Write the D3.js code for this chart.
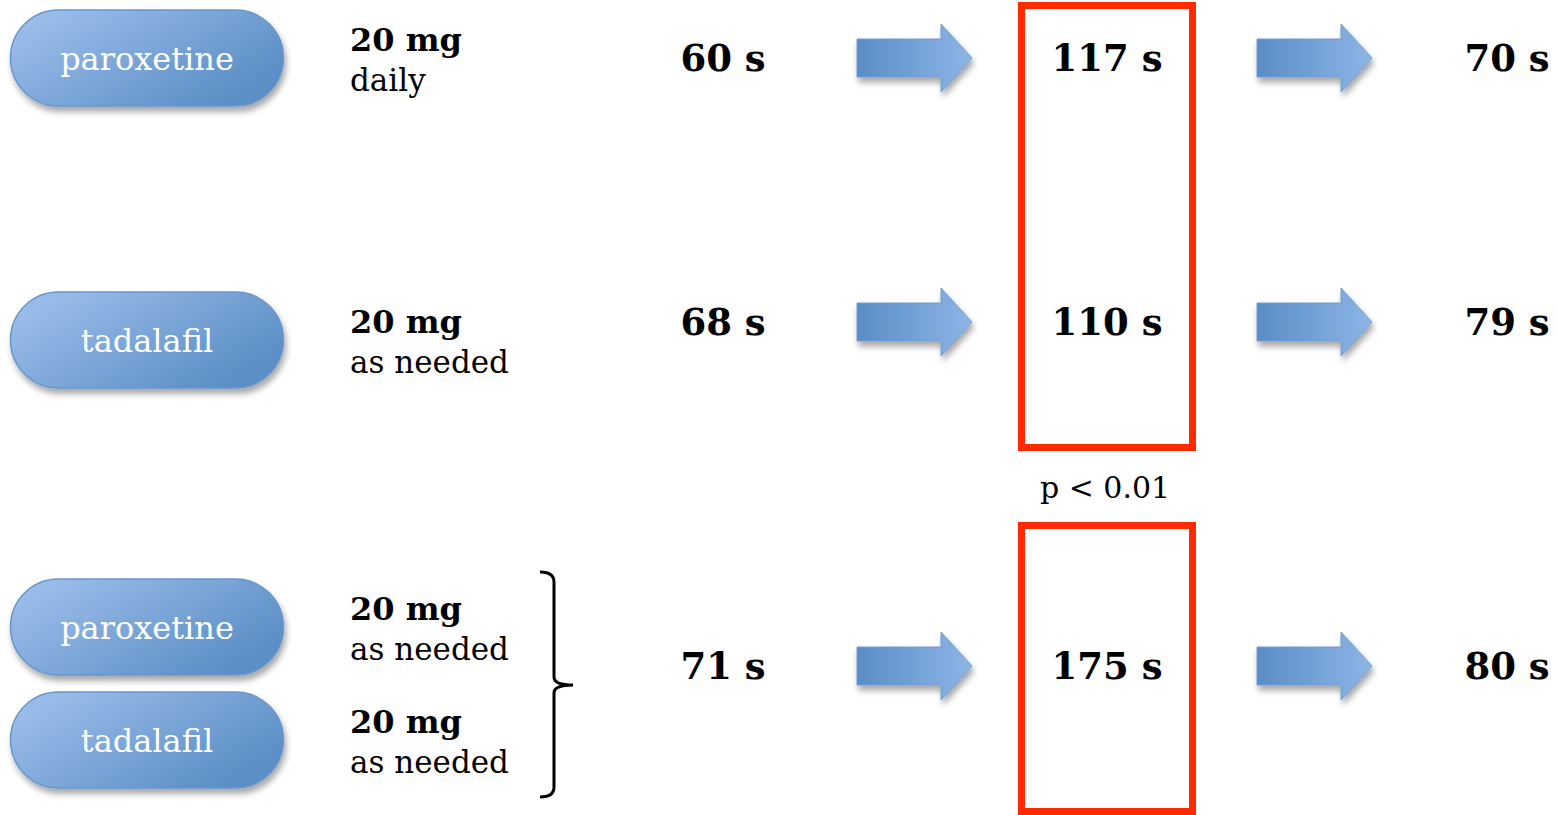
<!DOCTYPE html>
<html><head><meta charset="utf-8">
<script src="https://cdn.jsdelivr.net/npm/d3@7"></script>
<style>html,body{margin:0;padding:0;background:#fff;overflow:hidden}</style>
</head><body>
<svg id="c" width="1557" height="815"></svg>
<script>
// ---- data ----
const groups = ["paroxetine daily", "tadalafil as needed", "combination as needed"];
const pills = ["paroxetine", "tadalafil", "paroxetine", "tadalafil"];
const doses = ["20 mg", "20 mg", "20 mg", "20 mg"];
const regimens = ["daily", "as needed", "as needed", "as needed"];
const baselineIELT = [60, 68, 71];
const treatmentIELT = [117, 110, 175];
const followupIELT = [70, 79, 80];
const unit = "s";
const pLabel = "p < 0.01";
const boxedGroups = [[0, 1], [2, 2]];

// ---- layout ----
const svg = d3.select("#c");
const FONT = "'DejaVu Serif', Georgia, serif";

const colX = d3.scaleOrdinal()
  .domain(["pill", "dose", "baseline", "arrow1", "treatment", "arrow2", "followup"])
  .range([147, 350, 723, 914, 1107, 1314, 1507]);
const rowY = d3.scaleOrdinal().domain([0, 1, 2]).range([58, 322, 666]);
const pillY = d3.scaleOrdinal().domain([0, 1, 2, 3]).range([58, 340, 627, 740]);

const defs = svg.append("defs");
const pg = defs.append("linearGradient").attr("id", "pillGrad")
  .attr("x1", "0%").attr("y1", "0%").attr("x2", "100%").attr("y2", "60%");
pg.append("stop").attr("offset", "0%").attr("stop-color", "#a3c2ee");
pg.append("stop").attr("offset", "100%").attr("stop-color", "#5b8fc6");
const ag = defs.append("linearGradient").attr("id", "arrowGrad")
  .attr("x1", "0%").attr("y1", "0%").attr("x2", "100%").attr("y2", "0%");
ag.append("stop").attr("offset", "0%").attr("stop-color", "#5a8dc5");
ag.append("stop").attr("offset", "100%").attr("stop-color", "#8db5e8");
const sh = defs.append("filter").attr("id", "shadow")
  .attr("x", "-20%").attr("y", "-20%").attr("width", "140%").attr("height", "160%");
sh.append("feDropShadow").attr("dx", 2).attr("dy", 5).attr("stdDeviation", 3)
  .attr("flood-color", "#000").attr("flood-opacity", 0.35);

// pills
const pw = 273, ph = 96;
const pillG = svg.append("g").selectAll("g").data(pills).join("g")
  .attr("transform", (d, i) => `translate(${colX("pill")},${pillY(i)})`);
pillG.append("rect")
  .attr("x", -pw / 2).attr("y", -ph / 2).attr("width", pw).attr("height", ph)
  .attr("rx", ph / 2).attr("ry", ph / 2)
  .attr("fill", "url(#pillGrad)").attr("stroke", "#6796cb").attr("stroke-width", 1.5)
  .attr("filter", "url(#shadow)");
pillG.append("text").text(d => d)
  .attr("text-anchor", "middle").attr("dy", "0.36em")
  .attr("font-family", FONT).attr("font-size", 32).attr("fill", "#fff");

// doses
const doseG = svg.append("g").selectAll("g").data(doses).join("g")
  .attr("transform", (d, i) => `translate(${colX("dose")},${pillY(i)})`);
doseG.append("text").text(d => d)
  .attr("y", -7).attr("font-family", FONT).attr("font-weight", "bold")
  .attr("font-size", 32).attr("fill", "#000");
doseG.append("text").text((d, i) => regimens[i])
  .attr("y", 33).attr("font-family", FONT)
  .attr("font-size", 31).attr("fill", "#000");

// values
function valueCol(arr, col) {
  svg.append("g").selectAll("text").data(arr).join("text")
    .text(d => `${d} ${unit}`)
    .attr("x", colX(col)).attr("y", (d, i) => rowY(i))
    .attr("dy", "0.36em").attr("text-anchor", "middle")
    .attr("font-family", FONT).attr("font-weight", "bold")
    .attr("font-size", 37).attr("fill", "#000");
}
valueCol(baselineIELT, "baseline");
valueCol(treatmentIELT, "treatment");
valueCol(followupIELT, "followup");

// arrows
const arrowPath = "M-57,-19 L27,-19 L27,-34 L58,0 L27,34 L27,19 L-57,19 Z";
["arrow1", "arrow2"].forEach(col => {
  svg.append("g").selectAll("path").data(groups).join("path")
    .attr("d", arrowPath)
    .attr("transform", (d, i) => `translate(${colX(col)},${rowY(i)})`)
    .attr("fill", "url(#arrowGrad)").attr("stroke", "#6f9dd2").attr("stroke-width", 1)
    .attr("filter", "url(#shadow)");
});

// red boxes
const bw = 171;
const boxTop = [5.5, 525.5], boxBot = [447.5, 811.5];
svg.append("g").selectAll("rect").data(boxedGroups).join("rect")
  .attr("x", colX("treatment") - bw / 2)
  .attr("y", (d, i) => boxTop[i])
  .attr("width", bw)
  .attr("height", (d, i) => boxBot[i] - boxTop[i])
  .attr("fill", "none").attr("stroke", "#ff2a00").attr("stroke-width", 7);

// p label
svg.append("text").text(pLabel)
  .attr("x", colX("treatment") - 2).attr("y", 487).attr("dy", "0.36em")
  .attr("text-anchor", "middle").attr("font-family", FONT)
  .attr("font-size", 30).attr("fill", "#000");

// brace
const bx = 540, bTop = 572, bBot = 797, bMid = 685;
svg.append("path")
  .attr("d", `M${bx},${bTop} Q${bx + 14},${bTop} ${bx + 14},${bTop + 10} L${bx + 14},${bMid - 8} Q${bx + 14},${bMid} ${bx + 33},${bMid} Q${bx + 14},${bMid} ${bx + 14},${bMid + 8} L${bx + 14},${bBot - 10} Q${bx + 14},${bBot} ${bx},${bBot}`)
  .attr("fill", "none").attr("stroke", "#000").attr("stroke-width", 3);
</script>
</body></html>
